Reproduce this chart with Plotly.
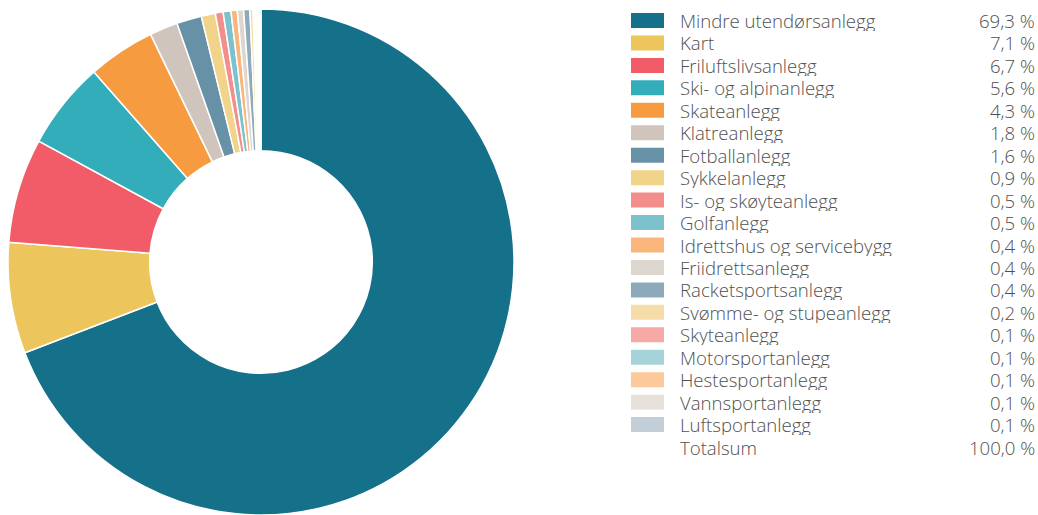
import plotly.graph_objects as go

# Facility categories and their share of all funded projects (%)
categories = [
    "Mindre utendørsanlegg", "Kart", "Friluftslivsanlegg", "Ski- og alpinanlegg",
    "Skateanlegg", "Klatreanlegg", "Fotballanlegg", "Sykkelanlegg",
    "Is- og skøyteanlegg", "Golfanlegg", "Idrettshus og servicebygg",
    "Friidrettsanlegg", "Racketsportsanlegg", "Svømme- og stupeanlegg",
    "Skyteanlegg", "Motorsportanlegg", "Hestesportanlegg", "Vannsportanlegg",
    "Luftsportanlegg",
]
shares = [69.3, 7.1, 6.7, 5.6, 4.3, 1.8, 1.6, 0.9, 0.5, 0.5, 0.4, 0.4, 0.4,
          0.2, 0.1, 0.1, 0.1, 0.1, 0.1]
total_label = "Totalsum"
total_value = 100.0

colors = [
    "#15718A", "#ECC55C", "#F15C68", "#33ADBA", "#F69B3F", "#CFC5BD",
    "#6691A6", "#F1D38A", "#F48E8C", "#7CC1CB", "#F9B57A", "#DDD6CE",
    "#8DA9BA", "#F5DDA9", "#F7A9A5", "#A6D3D9", "#FBC99A", "#E6E1DB",
    "#C2CFD8",
]

W, H = 1038, 515
font_family = "Open Sans"
text_color = "#505050"
font_size = 18.6


def fmt(v):
    return f"{v:.1f}".replace(".", ",") + " %"


fig = go.Figure(
    go.Pie(
        labels=categories,
        values=shares,
        marker=dict(colors=colors, line=dict(color="white", width=1.5)),
        hole=0.44,
        sort=False,
        direction="clockwise",
        rotation=0,
        textinfo="none",
        hoverinfo="label+percent",
        showlegend=False,
        domain=dict(x=[8 / W, 514 / W], y=[0, 506 / H]),
    )
)

# Hand-built legend: swatch, label and value on each row
row0, pitch = 20.5, 22.45
shapes, annotations = [], []
rows = list(zip(categories, shares, colors)) + [(total_label, total_value, None)]
label_font = dict(family=font_family, size=font_size, color=text_color, weight=300)
for i, (name, val, col) in enumerate(rows):
    cy = row0 + pitch * i
    if col:
        shapes.append(dict(
            type="rect", xref="paper", yref="paper",
            x0=631 / W, x1=664 / W,
            y0=(H - (cy + 7.5)) / H, y1=(H - (cy - 7.5)) / H,
            fillcolor=col, line=dict(width=0),
        ))
    annotations.append(dict(
        x=678.5 / W, y=(H - cy) / H, xref="paper", yref="paper",
        text=name, showarrow=False, xanchor="left", yanchor="middle",
        height=21, borderpad=0, valign="middle", font=label_font,
    ))
    annotations.append(dict(
        x=1036 / W, y=(H - cy) / H, xref="paper", yref="paper",
        text=fmt(val), showarrow=False, xanchor="right", yanchor="middle",
        height=21, borderpad=0, valign="middle", font=label_font,
    ))

fig.update_layout(
    width=W, height=H,
    margin=dict(l=0, r=0, t=0, b=0),
    paper_bgcolor="white",
    plot_bgcolor="white",
    shapes=shapes,
    annotations=annotations,
)

fig.write_html("out.html")
